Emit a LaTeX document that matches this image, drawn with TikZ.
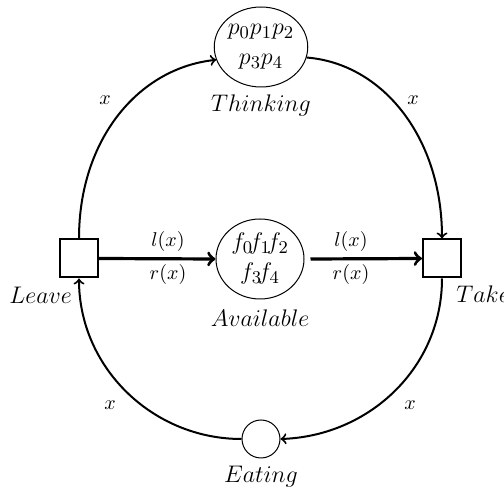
\documentclass[tikz,border=0pt]{standalone}
\usetikzlibrary{arrows,shapes.geometric}
\begin{document}
\begin{tikzpicture}[x=0.5pt,y=-0.5pt,
  place/.style={draw,ellipse,line width=0.5pt,inner sep=0pt,minimum width=44pt,minimum height=40pt,align=center,
    font=\fontsize{13}{15}\selectfont},
  trans/.style={draw,rectangle,line width=1pt,inner sep=0pt,minimum size=19pt},
  lab/.style={font=\large,inner sep=0pt},
  arclab/.style={font=\normalsize,inner sep=0pt},
  arc/.style={line width=1pt,->},
  thick arc/.style={line width=1.6pt,->}]
\useasboundingbox (0,0) rectangle (504,491);
\node[place] (thinking) at (261,47) {$p_0p_1p_2$\\$p_3p_4$};
\node[place] (avail) at (260,259) {$f_0\!f_1\!f_2$\\$f_3\!f_4$};
\node[place,minimum width=19pt,minimum height=19pt] (eating) at (261,439) {};
\node[trans] (leave) at (79,258.5) {};
\node[trans] (take) at (442,258.5) {};
\node[lab] (lthink) at (261,106) {$Thinking$};
\node[lab] (lavail) at (260,318) {$Available$};
\node[lab] (leat) at (261,477) {$Eating$};
\node[lab,anchor=base west] (lleave) at (9,304) {$Leave$};
\node[lab,anchor=base west] (ltake) at (456,303) {$Take$};
\node[arclab] (x1) at (105,100) {$x$};
\node[arclab] (x2) at (413,100) {$x$};
\node[arclab] (x3) at (110,405) {$x$};
\node[arclab] (x4) at (410,405) {$x$};
\node[arclab] (l1) at (168,242) {$l(x)$};
\node[arclab] (r1) at (168,275) {$r(x)$};
\node[arclab] (l2) at (351,242) {$l(x)$};
\node[arclab] (r2) at (351,275) {$r(x)$};
\draw[arc] (leave.north) .. controls +(0,-100) and +(-77,8) .. (thinking.196);
\draw[arc] (thinking.-13) .. controls +(76,6) and +(0,-101) .. (take.north);
\draw[arc] (take.south) .. controls +(0,89) and +(89,-3) .. (eating.east);
\draw[arc] (eating.west) .. controls +(-89,0) and +(0,89) .. (leave.south);
\draw[thick arc] (leave.east) -- (avail.west);
\draw[thick arc] ([xshift=3pt]avail.east) -- (take.west);
\end{tikzpicture}
\end{document}
